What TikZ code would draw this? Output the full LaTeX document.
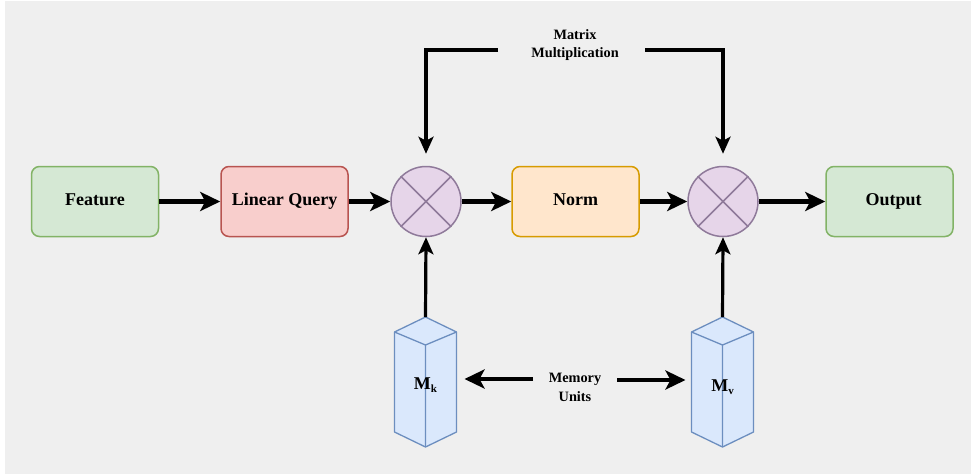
\documentclass[tikz,border=0pt]{standalone}
\usepackage{fontspec}
\setmainfont{Liberation Serif}
\usetikzlibrary{arrows.meta,calc}
\definecolor{bg}{HTML}{EFEFEF}
\definecolor{grfill}{HTML}{D5E8D4}
\definecolor{grline}{HTML}{82B366}
\definecolor{rdfill}{HTML}{F8CECC}
\definecolor{rdline}{HTML}{B85450}
\definecolor{orfill}{HTML}{FFE6CC}
\definecolor{orline}{HTML}{D79B00}
\definecolor{pufill}{HTML}{E6D5E9}
\definecolor{puline}{HTML}{8F7A9A}
\definecolor{blfill}{HTML}{DAE8FC}
\definecolor{blline}{HTML}{6C8EBF}
\tikzset{
  blockbox/.style={rectangle, rounded corners=8pt, minimum width=127pt, minimum height=70pt,
    line width=1.5pt, inner sep=0pt, text height=1.0em, text depth=0.22em,
    font=\fontsize{18}{21}\selectfont\bfseries},
  greenbox/.style={blockbox, fill=grfill, draw=grline},
  redbox/.style={blockbox, fill=rdfill, draw=rdline},
  orangebox/.style={blockbox, fill=orfill, draw=orline},
  multnode/.style={circle, minimum size=70pt, inner sep=0pt, fill=pufill, draw=puline, line width=1.5pt},
  smalltxt/.style={align=center, inner sep=0pt, font=\fontsize{14.3}{18.5}\selectfont\bfseries},
  cubelbl/.style={inner sep=0pt, font=\fontsize{18}{20}\selectfont\bfseries},
  flow/.style={line width=4.5pt, -{Stealth[length=20pt,width=19pt,inset=5pt]}},
  thinflow/.style={line width=3.2pt, -{Stealth[length=17pt,width=15pt,inset=4pt]}},
  memcube/.pic={
    \fill[blfill] (-31,-50) -- (0,-65) -- (31,-50) -- (31,50) -- (0,65) -- (-31,50) -- cycle;
    \draw[blline, line width=1.3pt, line join=round]
      (-31,-50) -- (0,-65) -- (31,-50) -- (31,50) -- (0,65) -- (-31,50) -- cycle;
    \draw[blline, line width=1.3pt, line join=round]
      (-31,-50) -- (0,-37) -- (31,-50) (0,-37) -- (0,65);
    \coordinate (-top) at (0,-65);
    \coordinate (-west) at (-31,0);
    \coordinate (-east) at (31,0);
  }
}
\begin{document}
\begin{tikzpicture}[x=1pt,y=-1pt]
\useasboundingbox (0,0) rectangle (971,474);
\fill[bg] (5,1) rectangle (971,474);

% main pipeline
\node[greenbox]  (feat) at (95,201.5)    {Feature};
\node[redbox]    (lq)   at (284.5,201.5) {Linear Query};
\node[multnode]  (m1)   at (426,201.5)   {};
\node[orangebox] (norm) at (575.5,201.5) {Norm};
\node[multnode]  (m2)   at (723,201.5)   {};
\node[greenbox]  (out)  at (889.5,201.5) {\hspace*{8pt}Output};

\foreach \m in {m1,m2}{
  \draw[puline, line width=1.5pt] (\m.north west) -- (\m.south east)
                                  (\m.north east) -- (\m.south west);
}

\draw[flow] (feat.east) -- (lq.west);
\draw[flow] (lq.east) -- (m1.west);
\draw[flow] (m1.east) -- (norm.west);
\draw[flow] (norm.east) -- (m2.west);
\draw[flow] (m2.east) -- (out.west);

% matrix multiplication feeds
\node[smalltxt] (mm) at (575,45) {Matrix\\Multiplication};
\coordinate (mml) at (498,50);
\coordinate (mmr) at (645,50);
\draw[thinflow, shorten >=12pt] (mml) -| (m1.north);
\draw[thinflow, shorten >=12pt] (mmr) -| (m2.north);

% memory units
\pic (mk) at (425.5,382) {memcube};
\pic (mv) at (722.5,382) {memcube};
\node[cubelbl] (mklbl) at (425.5,385) {M\raisebox{-0.3ex}{\fontsize{11}{11}\selectfont k}};
\node[cubelbl] (mvlbl) at (722.5,387) {M\raisebox{-0.3ex}{\fontsize{11}{11}\selectfont v}};

\draw[thinflow] (mk-top) -- (m1.south);
\draw[thinflow] (mv-top) -- (m2.south);

\node[smalltxt] (mu) at (575,387.5) {Memory\\Units};
\coordinate (mul) at (533,379);
\coordinate (mur) at (617,380);
\draw[flow, shorten >=8pt] (mul) -- (mul -| mk-east);
\draw[flow, shorten >=6pt] (mur) -- (mur -| mv-west);
\end{tikzpicture}
\end{document}
